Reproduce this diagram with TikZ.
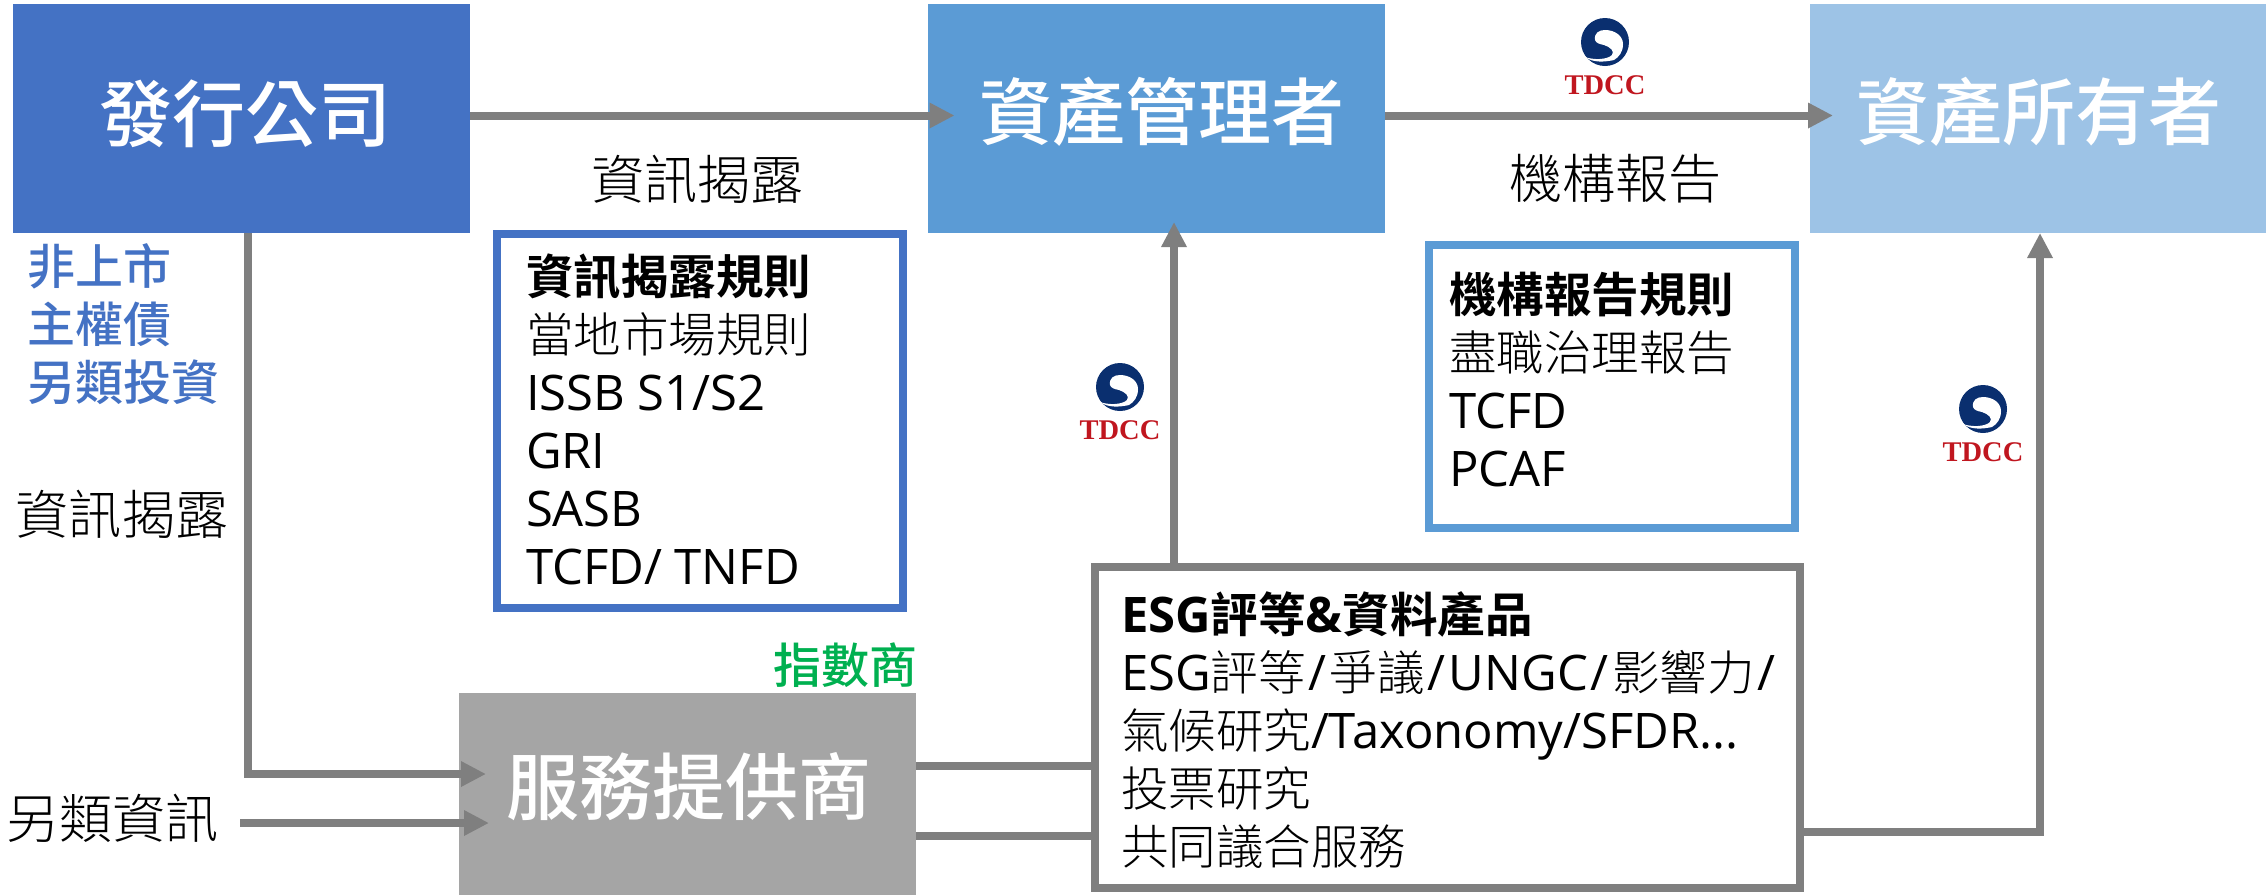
\documentclass[tikz,border=0pt]{standalone}
\usepackage{fontspec}
\usetikzlibrary{arrows.meta}
\setmainfont{Open Sans}
\newfontfamily\cjk[UprightFont={* Light},BoldFont={* Bold}]{Noto Sans CJK TC}
\newfontfamily\cjkmed[UprightFont={* Medium},BoldFont={* Bold}]{Noto Sans CJK TC}
\newfontfamily\tdccfont[BoldFont={Liberation Serif Bold}]{Liberation Serif}
\newcommand{\C}[1]{{\cjk\fontsize{47.5}{58}\selectfont #1}}
\newcommand{\Sl}{\hspace{3pt}/\hspace{3pt}}
\definecolor{cIssuer}{HTML}{4472C4}
\definecolor{cManager}{HTML}{5B9BD5}
\definecolor{cOwner}{HTML}{9DC3E6}
\definecolor{cGrayBox}{HTML}{A5A5A5}
\definecolor{cLine}{HTML}{7F7F7F}
\definecolor{cGreen}{HTML}{00B050}
\definecolor{cNavy}{HTML}{0A2F6F}
\definecolor{cRed}{HTML}{C0161F}
\tikzset{
  headbox/.style={fill=#1,minimum width=457pt,minimum height=229pt,inner sep=0pt,outer sep=0pt},
  headtext/.style={inner sep=0pt,text=white,font=\fontsize{73}{80}\selectfont\cjkmed},
  framebox/.style={draw=#1,line width=8pt,fill=white,inner sep=0pt,outer sep=0pt},
  boxtext/.style={anchor=west,align=left,inner sep=0pt,outer sep=0pt,font=\fontsize{49}{58}\selectfont},
  plainlabel/.style={inner sep=0pt,font=\fontsize{53}{60}\selectfont\cjk},
  tag/.style={inner sep=0pt,font=\fontsize{48}{58}\selectfont\cjkmed},
  flowline/.style={draw=cLine,line width=8pt},
  flowarrow/.style={flowline,-{Triangle[length=25pt,width=24pt]}},
  tdcc/.pic={
    \fill[cNavy] (0,0) circle (24);
    \fill[white] (-10,-2) .. controls (-11,-9) and (-6,-12) .. (0,-12)
      .. controls (10,-12) and (18,-6) .. (18,2)
      .. controls (18,10) and (14,15) .. (9,18)
      .. controls (0,20) and (-12,21) .. (-20,15)
      .. controls (-12,18) and (2,18) .. (7,13)
      .. controls (10,9) and (5,5) .. (-1,3)
      .. controls (-6,2) and (-9,1) .. (-10,-2) -- cycle;
    \node[inner sep=0pt,text=cRed,font=\fontsize{28.5}{30}\selectfont\tdccfont\bfseries] (-t) at (0,43) {TDCC};
  }
}
\begin{document}
\begin{tikzpicture}[x=1pt,y=-1pt]
\useasboundingbox (0,0) rectangle (2266,895);
% head boxes
\node[headbox=cIssuer] (issuer) at (241.5,118.5) {};
\node[headbox=cManager] (manager) at (1156,118.5) {};
\node[headbox=cOwner] (owner) at (2038.5,118.5) {};
\node[fill=cGrayBox,minimum width=457pt,minimum height=202pt,inner sep=0pt,outer sep=0pt] (service) at (687.5,794) {};
\node[headtext] (issuerText) at ([xshift=4pt,yshift=5pt]issuer.center) {發行公司};
\node[headtext] (managerText) at ([xshift=6pt,yshift=7pt]manager.center) {資產管理者};
\node[headtext] (ownerText) at ([yshift=7pt]owner.center) {資產所有者};
\node[headtext] (serviceText) at ([xshift=1pt,yshift=7pt]service.center) {服務提供商};
% framed boxes
\node[framebox=cIssuer,minimum width=406pt,minimum height=374pt] (rulesA) at (700,421) {};
\node[framebox=cManager,minimum width=366pt,minimum height=283pt] (rulesB) at (1612,386) {};
\node[framebox=cLine,minimum width=705pt,minimum height=321pt] (esg) at (1447.5,727.5) {};
\node[boxtext] (rulesAtext) at ([xshift=29pt,yshift=2pt]rulesA.west) {\textbf{\C{資訊揭露規則}}\\\C{當地市場規則}\\ISSB S1/S2\\GRI\\SASB\\TCFD/ TNFD};
\node[boxtext] (rulesBtext) at ([xshift=20pt,yshift=6pt]rulesB.west) {\textbf{\C{機構報告規則}}\\\C{盡職治理報告}\\TCFD\\PCAF};
\node[boxtext] (esgtext) at ([xshift=26pt,yshift=-3pt]esg.west) {\textbf{ESG\C{評等}\&\C{資料產品}}\\ESG\C{評等}\Sl\C{爭議}\Sl UNGC\Sl\C{影響力}\Sl\\\C{氣候研究}/Taxonomy/SFDR...\\\C{投票研究}\\\C{共同議合服務}};
% labels
\node[plainlabel] (lblTopA) at (697,179) {資訊揭露};
\node[plainlabel] (lblTopB) at (1615,179) {機構報告};
\node[plainlabel] (lblLeft) at (122,514) {資訊揭露};
\node[plainlabel] (lblAlt) at (112,818) {另類資訊};
\node[tag,text=cIssuer,anchor=west,align=left] (lblPriv) at (27,324) {非上市\\主權債\\另類投資};
\node[tag,text=cGreen,anchor=east] (lblIndex) at (918,665) {指數商};
% connectors
\coordinate (altStart) at (240,823);
\draw[flowarrow,shorten >=-27pt] ([yshift=3pt]issuer.east) -- ([yshift=3pt]manager.west);
\draw[flowarrow,shorten >=-23pt] ([yshift=3pt]manager.east) -- ([yshift=3pt]owner.west);
\draw[flowarrow] ([xshift=6.5pt]issuer.south) |- ([xshift=27pt,yshift=20pt]service.west);
\draw[flowarrow] (altStart) -- ([xshift=30pt,yshift=-29pt]service.west);
\draw[flowline] ([yshift=28pt]service.east) -- ([yshift=-38.5pt,xshift=-4pt]esg.west);
\draw[flowline] ([yshift=-42pt]service.east) -- ([yshift=-108.5pt,xshift=-4pt]esg.west);
\draw[flowarrow,shorten >=-11pt] ([xshift=-273.5pt]esg.north) -- ([xshift=18pt]manager.south);
\draw[flowarrow] ([yshift=-104.5pt]esg.east) -| ([xshift=1.5pt]owner.south);
% logos
\pic (logoA) at (1605,42) {tdcc};
\pic (logoB) at (1120,387) {tdcc};
\pic (logoC) at (1983,409) {tdcc};
\end{tikzpicture}
\end{document}
